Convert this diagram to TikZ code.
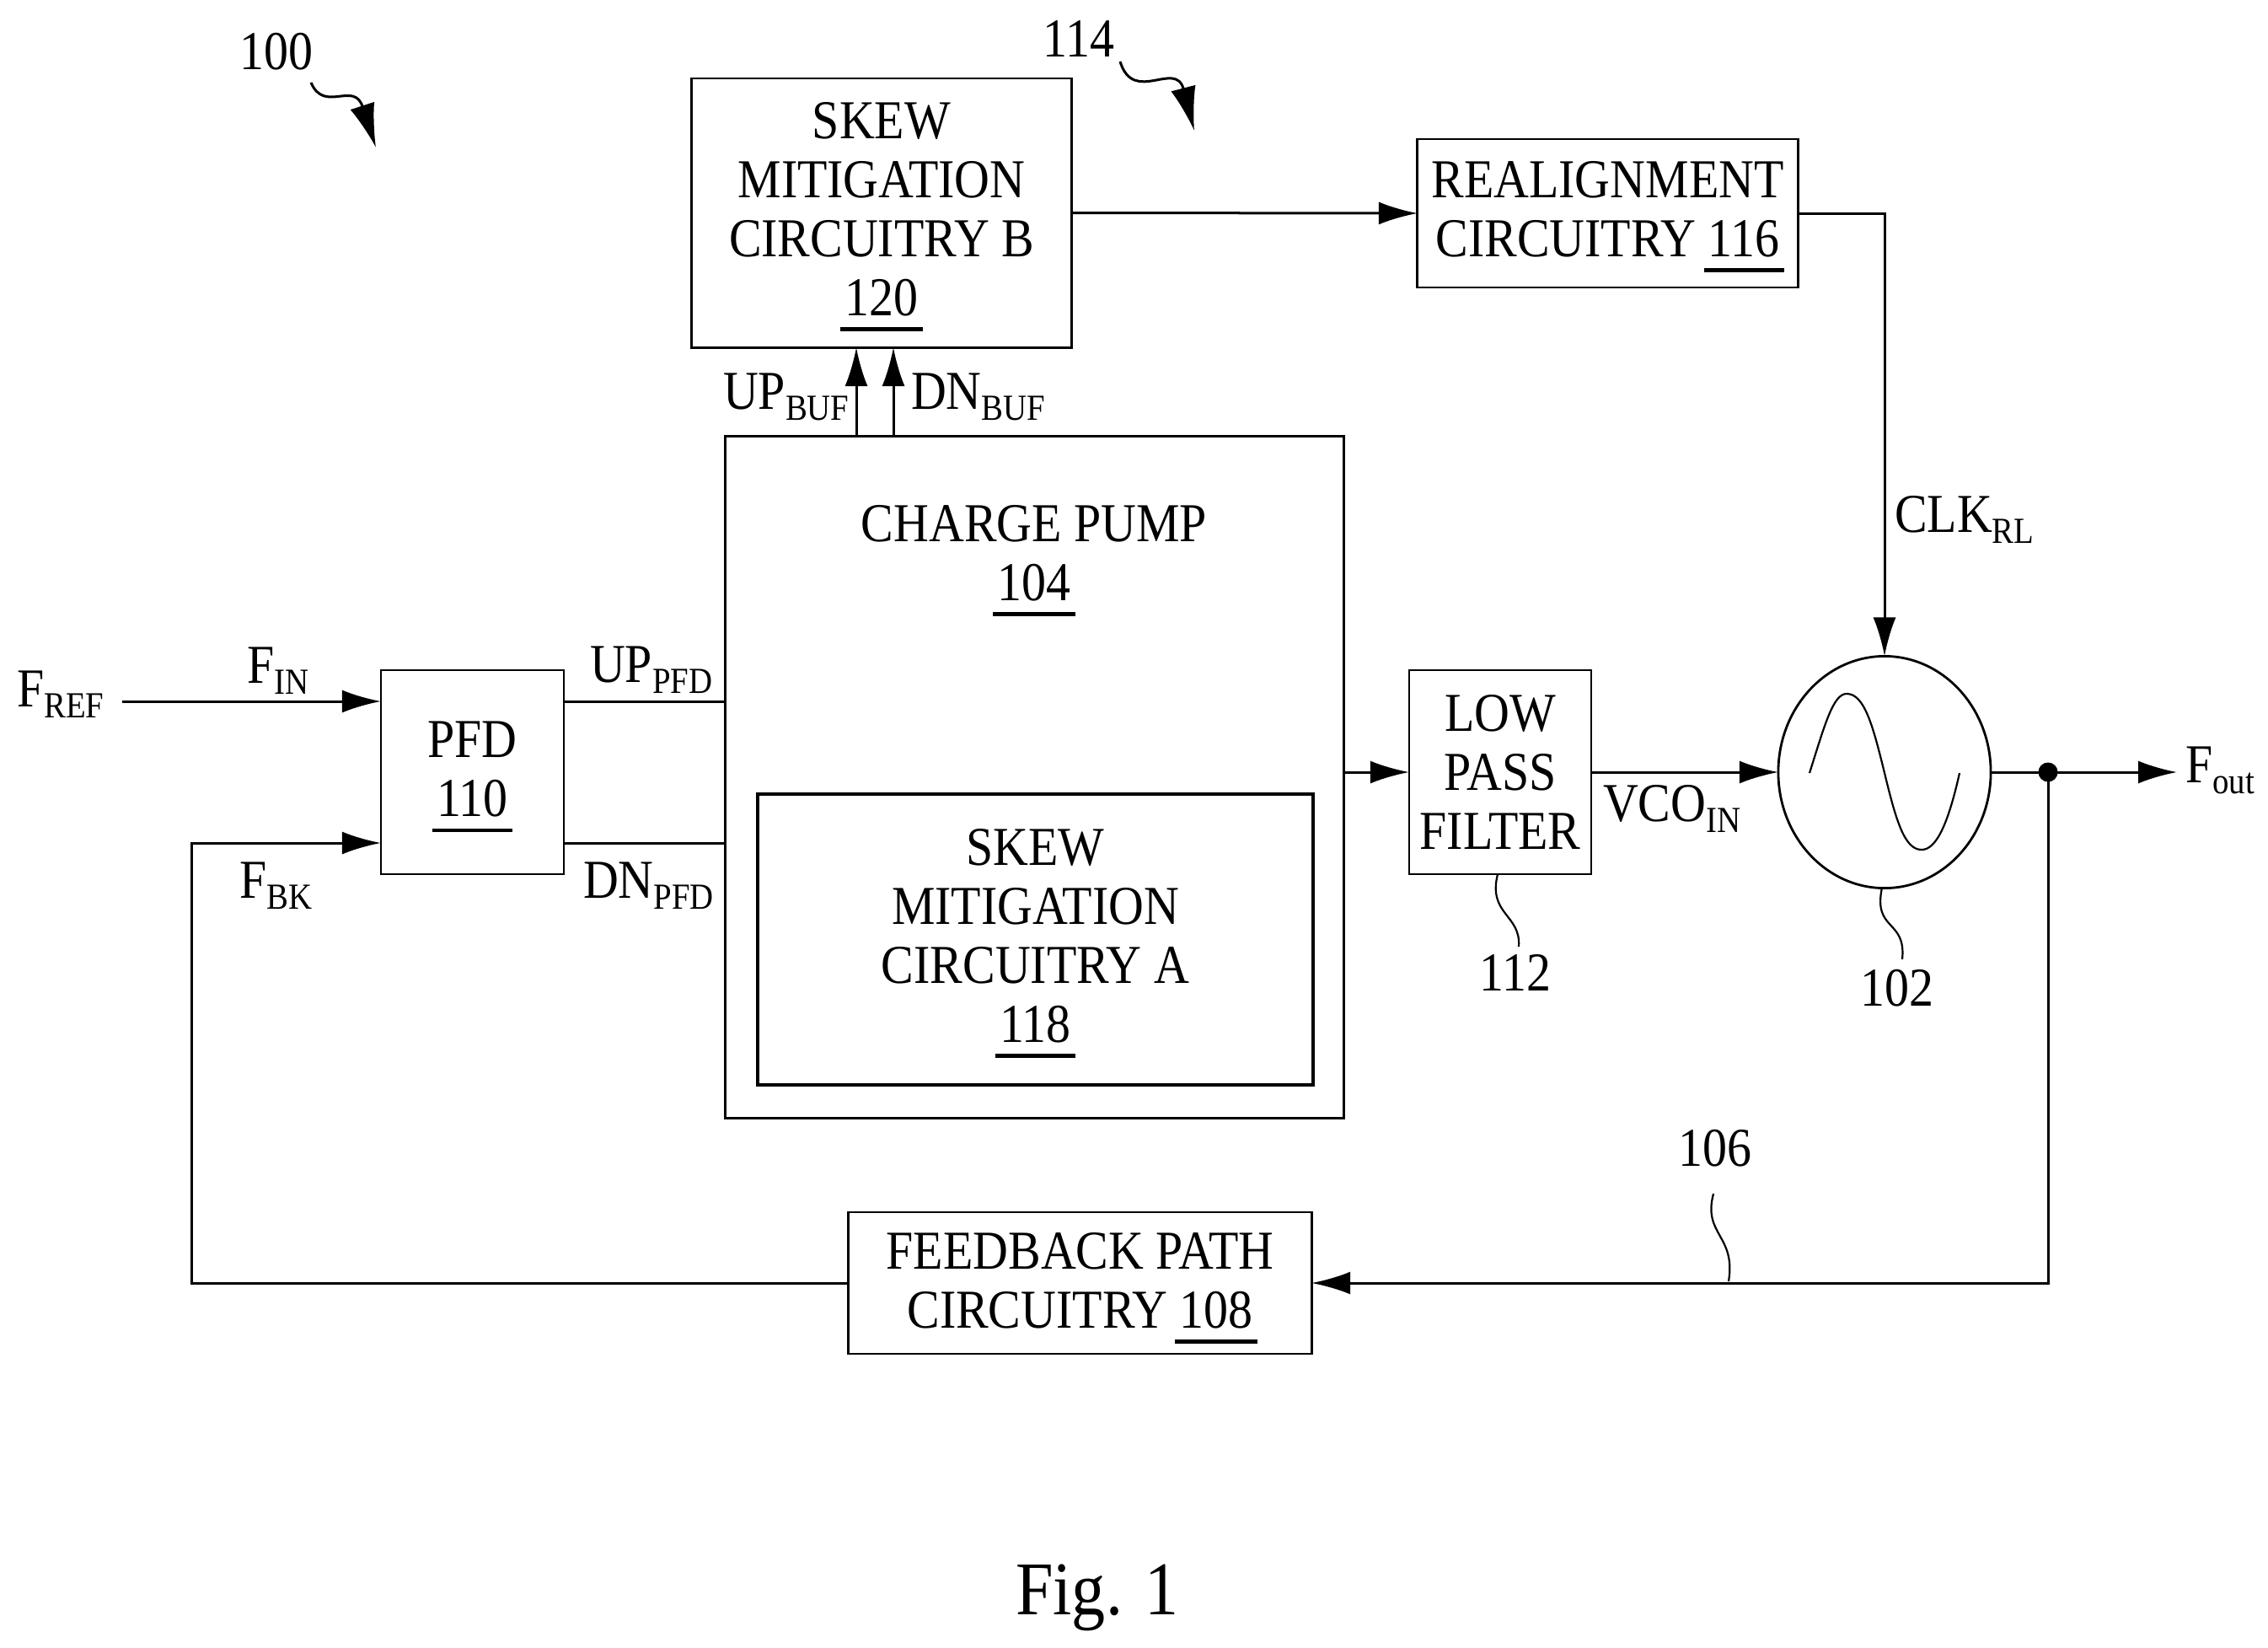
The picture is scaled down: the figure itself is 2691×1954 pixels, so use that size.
\documentclass[tikz,border=0pt]{standalone}
\usepackage{fontspec}
\setmainfont[FakeStretch=0.89]{Liberation Serif}
\usetikzlibrary{arrows.meta,shapes.geometric}
\newcommand\un[1]{\leavevmode\setbox0\hbox{#1}\rlap{\kern-1.5pt\smash{\rule[-5.3pt]{\dimexpr\wd0+3pt}{1.4pt}}}#1}
\newcommand\sbs[1]{\raisebox{-3.9pt}{\fontsize{12.4}{13}\selectfont #1}}
\newcommand\dep[1]{\rule[-#1]{0pt}{0pt}}
\tikzset{
  wire/.style={line width=0.03cm,draw=black},
  arr/.style={wire,-{Latex[length=0.46cm,width=0.27cm]}},
  thinw/.style={line width=0.022cm,draw=black},
  blk/.style={draw=black,line width=0.028cm,inner sep=0pt,outer sep=0pt,align=center,fill=white},
  txt/.style={inner sep=0pt,outer sep=0pt,anchor=base west},
  ctxt/.style={inner sep=0pt,outer sep=0pt,anchor=base},
}
\begin{document}
\begin{tikzpicture}[x=0.01cm,y=-0.01cm,every node/.style={font=\fontsize{18.5}{19.9}\selectfont}]
\useasboundingbox (0,0) rectangle (2691,1954);
% blocks
\node[blk,minimum width=7.33cm,minimum height=8.08cm] (cp) at (1227.5,922) {};
\node[ctxt,align=center] (cplabel) at (1227,712) {CHARGE PUMP\\[0pt]\un{104}};
\node[blk,line width=0.035cm,minimum width=6.59cm,minimum height=3.45cm] (sma) at (1228.5,1114.5) {SKEW\\MITIGATION\\CIRCUITRY A\\\un{118}\dep{2.8pt}};
\node[blk,minimum width=4.51cm,minimum height=3.19cm] (smb) at (1046,252.5) {SKEW\\MITIGATION\\CIRCUITRY B\\\un{120}\dep{2.8pt}};
\node[blk,minimum width=4.51cm,minimum height=1.76cm] (real) at (1907.5,253) {REALIGNMENT\\CIRCUITRY \un{116}\dep{2.8pt}};
\node[blk,minimum width=2.17cm,minimum height=2.42cm] (pfd) at (560.5,916) {PFD\\\un{110}\dep{2pt}};
\node[blk,minimum width=2.16cm,minimum height=2.42cm] (lpf) at (1780,916) {LOW\\PASS\\FILTER};
\node[blk,minimum width=5.49cm,minimum height=1.68cm] (fb) at (1281.5,1522) {FEEDBACK PATH\\CIRCUITRY \un{108}\dep{2pt}};
\node[ellipse,draw=black,line width=0.028cm,inner sep=0pt,outer sep=0pt,minimum width=2.52cm,minimum height=2.75cm] (vco) at (2236,916) {};
\node[circle,fill=black,inner sep=0pt,outer sep=0pt,minimum size=0.23cm] (dot) at (2430,916) {};
% anchors for connectors
\coordinate (frefend) at (145,832);
\coordinate (pfdin) at (pfd.west |- frefend);
\coordinate (pfdup) at (pfd.east |- frefend);
\coordinate (cpup) at (cp.west |- frefend);
\coordinate (fbky) at (227,1000);
\coordinate (pfdfb) at (pfd.west |- fbky);
\coordinate (pfddn) at (pfd.east |- fbky);
\coordinate (cpdn) at (cp.west |- fbky);
\coordinate (cpoutx) at (cp.east |- lpf.west);
\coordinate (cpup1) at (1016,518);
\coordinate (cpup2) at (1060,518);
\coordinate (foutin) at (2583,916);
% labels
\node[txt] (fref) at (20,838) {F\sbs{REF}};
\node[txt] (fin) at (293,810) {F\sbs{IN}};
\node[txt] (fbk) at (284,1065) {F\sbs{BK}};
\node[txt] (uppfd) at (700,809) {UP\sbs{PFD}};
\node[txt] (dnpfd) at (692,1065) {DN\sbs{PFD}};
\node[txt] (upbuf) at (858,485) {UP\sbs{BUF}};
\node[txt] (dnbuf) at (1081,485) {DN\sbs{BUF}};
\node[txt] (vcoin) at (1902,974) {VCO\sbs{IN}};
\node[txt] (fout) at (2593,928) {F\sbs{out}};
\node[txt] (clkrl) at (2248,631) {CLK\sbs{RL}};
\node[ctxt] (n100) at (328,82) {100};
\node[ctxt] (n114) at (1280,67) {114};
\node[ctxt] (n112) at (1798,1175) {112};
\node[ctxt] (n102) at (2251,1193) {102};
\node[ctxt] (n106) at (2035,1383) {106};
\node[ctxt,font=\fontsize{25.6}{28}\selectfont] (figl) at (1302,1915) {Fig. 1};
% connectors
\draw[arr] (frefend) -- (pfdin);
\draw[wire] (pfdup) -- (cpup);
\draw[wire] (pfddn) -- (cpdn);
\draw[arr] (fb.west) -| (fbky) -- (pfdfb);
\draw[arr] (cpoutx) -- (lpf.west);
\draw[arr] (lpf.east) -- (vco.west);
\draw[wire] (vco.east) -- (dot.center);
\draw[arr] (dot.center) -- (foutin);
\draw[arr] (dot.center) |- (fb.east);
\draw[arr] (cpup1) -- (cpup1 |- smb.south);
\draw[arr] (cpup2) -- (cpup2 |- smb.south);
\draw[arr] (smb.east) -- (real.west);
\draw[arr] (real.east) -| (vco.north);
% sine in the VCO
\draw[thinw] (2147,917) .. controls (2165,860) and (2175,823) .. (2191,823)
  .. controls (2212,823) and (2222,860) .. (2236,917)
  .. controls (2250,975) and (2260,1008) .. (2280,1008)
  .. controls (2298,1008) and (2312,975) .. (2325,917);
% reference leaders
\coordinate (l112) at (1777,1037);
\coordinate (e112) at (1802,1123);
\draw[thinw] (l112) .. controls (1765,1085) and (1805,1085) .. (e112);
\coordinate (l102) at (2233,1053);
\coordinate (e102) at (2257,1138);
\draw[thinw] (l102) .. controls (2222,1105) and (2262,1090) .. (e102);
\coordinate (s106) at (2033,1416);
\coordinate (e106) at (2051,1520);
\draw[thinw] (s106) .. controls (2020,1465) and (2060,1465) .. (e106);
\coordinate (s100) at (369,98);
\coordinate (t100) at (446,175);
\draw[wire,-{Latex[length=0.52cm,width=0.3cm]}] (s100) .. controls (385,135) and (420,95) .. (t100);
\coordinate (s114) at (1329,73);
\coordinate (t114) at (1417,155);
\draw[wire,-{Latex[length=0.52cm,width=0.3cm]}] (s114) .. controls (1345,125) and (1395,70) .. (t114);
\end{tikzpicture}
\end{document}
